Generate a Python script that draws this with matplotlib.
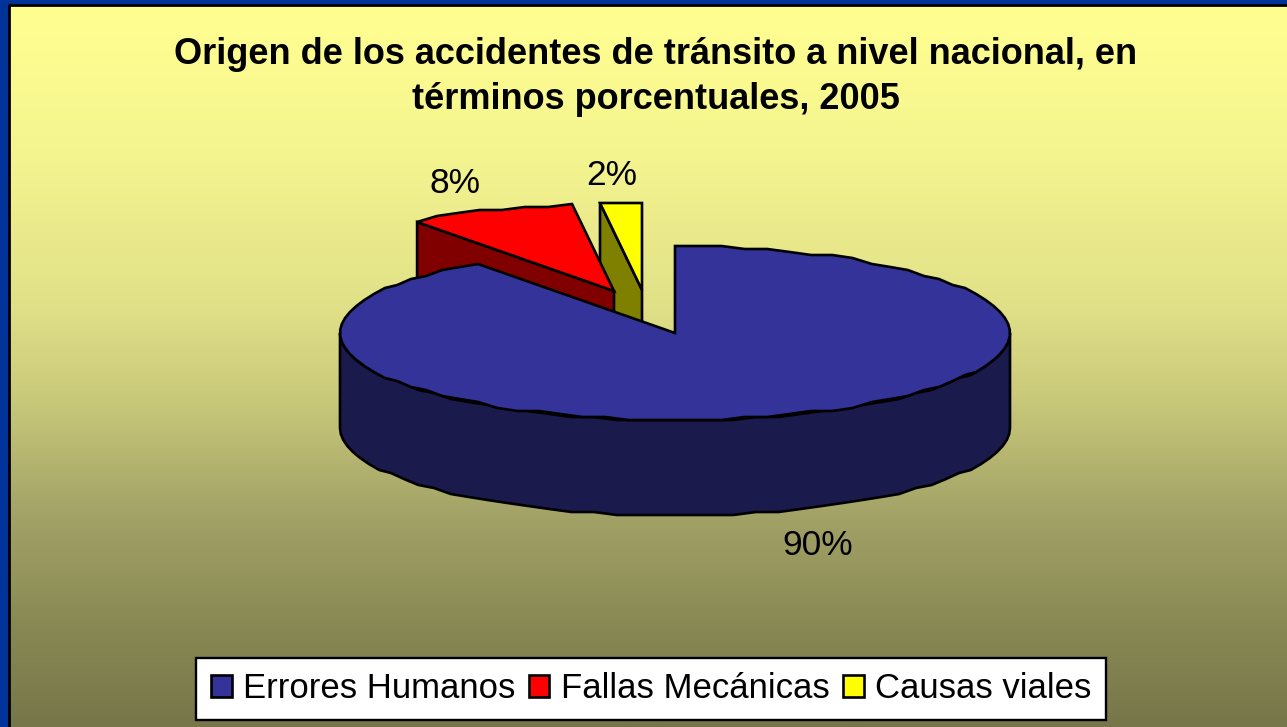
import numpy as np
import matplotlib
matplotlib.use("Agg")
import matplotlib.pyplot as plt
from matplotlib.colors import LinearSegmentedColormap
from matplotlib.patches import Patch, Polygon

plt.rcParams["font.family"] = ["Liberation Sans", "DejaVu Sans"]

TITLE = "Origen de los accidentes de tránsito a nivel nacional, en\ntérminos porcentuales, 2005"
CATEGORIES = ["Errores Humanos", "Fallas Mecánicas", "Causas viales"]
VALUES = [90, 8, 2]
TOP_COLORS = ["#333399", "#ff0000", "#ffff00"]
SIDE_COLORS = ["#1a1a4d", "#800000", "#808000"]
# slice displacement from the pie centre, pixels
OFFSETS = [(0, 0), (-61, -42), (-33, -43)]
LABEL_POS = [(818, 543), (455, 181), (612, 173)]

W, H = 1287, 727
CX, CY, RX, RY, DEPTH = 675, 333, 335, 87, 95
LW = 1.9


def rim(a0, a1, step=4.0, snap=3.0):
    # a: degrees clockwise from 12 o'clock; the original rim is a coarse, snapped polyline
    n = max(int(abs(a1 - a0) / step), 1)
    a = np.radians(np.linspace(a0, a1, n + 1))
    return np.column_stack([RX * np.sin(a), np.round(-RY * np.cos(a) / snap) * snap])


fig = plt.figure(figsize=(W / 100, H / 100), dpi=100, facecolor="#003399")
ax = fig.add_axes([0, 0, 1, 1])
ax.set_xlim(0, W)
ax.set_ylim(H, 0)
ax.axis("off")

# plot-area gradient and its black frame
stops = [(0.0, "#ffff90"), (0.2, "#f5f590"), (0.42, "#e0e088"), (0.55, "#c8c87a"),
         (0.7, "#a4a468"), (0.85, "#8a8a55"), (1.0, "#77764a")]
cmap = LinearSegmentedColormap.from_list("bg", stops)
ax.imshow(np.linspace(0, 1, 256)[:, None], cmap=cmap, extent=(9, W, H, 5), aspect="auto", zorder=0)
ax.plot([9, 9, W], [H, 5, 5], color="black", lw=2, zorder=1, solid_capstyle="butt")

edges = np.cumsum([0] + VALUES) * 3.6
wedges = []
for i in range(3):
    apex = np.array([CX, CY]) + OFFSETS[i]
    wedges.append((apex, rim(edges[i], edges[i + 1]) + apex))

kw = dict(edgecolor="black", lw=LW, joinstyle="miter")
down = np.array([0, DEPTH])

# back slices first: side face, then top, the big slice covers what it should
for i in (2, 1):
    apex, arc = wedges[i]
    side = np.vstack([arc[0], apex, apex + down, arc[0] + down])
    ax.add_patch(Polygon(side, facecolor=SIDE_COLORS[i], zorder=3 + (i == 1) * 2, **kw))
    ax.add_patch(Polygon(np.vstack([apex, arc]), facecolor=TOP_COLORS[i], zorder=4 + (i == 1) * 2, **kw))

apex, arc = wedges[0]
lower = rim(90, 270) + apex
ax.add_patch(Polygon(np.vstack([lower, (lower + down)[::-1]]), facecolor=SIDE_COLORS[0], zorder=7, **kw))
ax.add_patch(Polygon(np.vstack([apex, arc]), facecolor=TOP_COLORS[0], zorder=8, **kw))

for v, (x, y) in zip(VALUES, LABEL_POS):
    ax.text(x, y + 2.5, f"{v}%", ha="center", va="center", fontsize=25.5, color="black", zorder=9)

ax.text(656, 77, TITLE, ha="center", va="center", fontsize=26, fontweight="bold",
        linespacing=1.36, color="black", zorder=9)

handles = [Patch(facecolor=c, edgecolor="black", lw=1.9) for c in TOP_COLORS]
leg = ax.legend(handles, CATEGORIES, loc="center", bbox_to_anchor=(651 / W, 1 - 689 / H), ncol=3,
                fontsize=25, frameon=True, fancybox=False, framealpha=1, facecolor="white",
                edgecolor="black", handlelength=0.6, handleheight=0.6, handletextpad=0.32,
                columnspacing=0.39, borderpad=0.42, borderaxespad=0)
leg.get_frame().set_linewidth(1.7)
leg.set_zorder(10)

fig.savefig("out.png", dpi=100, facecolor=fig.get_facecolor())
